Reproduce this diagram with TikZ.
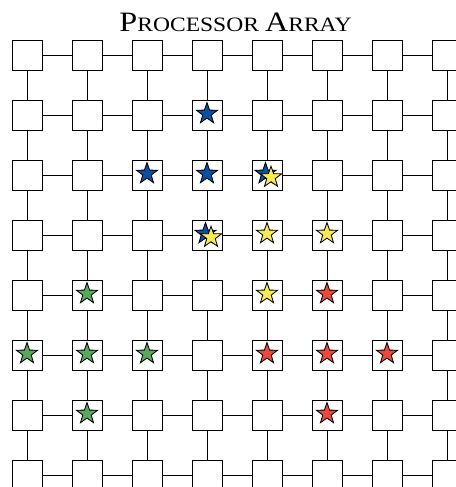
\documentclass[tikz,border=0pt]{standalone}
\usepackage{fontspec}
\usepackage{xcolor}
\usepackage{tikz}
\usetikzlibrary{
	shapes.geometric
}

\newfontfamily\titlefont{Liberation Serif}

\definecolor{tokblue}{RGB}{8,80,165}
\definecolor{tokyellow}{RGB}{250,235,80}
\definecolor{tokgreen}{RGB}{88,170,90}
\definecolor{tokred}{RGB}{236,72,60}

\tikzset{
	pe/.style={draw, fill=white, minimum size=0.5cm, inner sep=0pt, line width=0.45pt},
	link/.style={line width=0.45pt},
	token/.style={star, star points=5, star point ratio=2.5, draw, line width=0.4pt,
		minimum size=0.37cm, inner sep=0pt, yshift=0.033cm},
	lowtok/.style={token, xshift=0.067cm, yshift=-0.06cm},
	hightok/.style={token, xshift=-0.025cm}
}

\newcommand{\capbig}[1]{{\fontsize{13.3}{15}\selectfont #1}}
\newcommand{\capsmall}[1]{{\fontsize{9.7}{11}\selectfont #1}}

\begin{document}
\begin{tikzpicture}
	\clip (0,0) rectangle (7.6,-8.117);
	
	% 标题
	\node[anchor=base, inner sep=0pt] (title) at (3.925,-0.528)
	{\scalebox{1.15}[1]{\titlefont\capbig{P}\capsmall{ROCESSOR} \capbig{A}\capsmall{RRAY}}};
	
	% 处理器阵列
	\foreach \r in {1,...,8}
	\foreach \c in {1,...,8}
	\node[pe] (p-\r-\c) at ({0.45+\c-1},{-0.928-\r+1}) {};
	
	% 横向和纵向连线
	\foreach \r in {1,...,8}
	\foreach \c in {1,...,7}{
		\pgfmathtruncatemacro{\n}{\c+1}
		\draw[link] (p-\r-\c) -- (p-\r-\n);
		\draw[link] (p-\c-\r) -- (p-\n-\r);
	}
	
	% 蓝色
	\node[token, fill=tokblue] (b1) at (p-2-4) {};
	\node[token, fill=tokblue] (b2) at (p-3-3) {};
	\node[token, fill=tokblue] (b3) at (p-3-4) {};
	\node[hightok, fill=tokblue] (b4) at (p-3-5) {};
	\node[hightok, fill=tokblue] (b5) at (p-4-4) {};
	
	% 黄色
	\node[lowtok, fill=tokyellow] (y1) at (p-3-5) {};
	\node[lowtok, fill=tokyellow] (y2) at (p-4-4) {};
	\node[token, fill=tokyellow] (y3) at (p-4-5) {};
	\node[token, fill=tokyellow] (y4) at (p-4-6) {};
	\node[token, fill=tokyellow] (y5) at (p-5-5) {};
	
	% 绿色
	\node[token, fill=tokgreen] (g1) at (p-5-2) {};
	\node[token, fill=tokgreen] (g2) at (p-6-1) {};
	\node[token, fill=tokgreen] (g3) at (p-6-2) {};
	\node[token, fill=tokgreen] (g4) at (p-6-3) {};
	\node[token, fill=tokgreen] (g5) at (p-7-2) {};
	
	% 红色
	\node[token, fill=tokred] (r1) at (p-5-6) {};
	\node[token, fill=tokred] (r2) at (p-6-5) {};
	\node[token, fill=tokred] (r3) at (p-6-6) {};
	\node[token, fill=tokred] (r4) at (p-6-7) {};
	\node[token, fill=tokred] (r5) at (p-7-6) {};
\end{tikzpicture}
\end{document}
